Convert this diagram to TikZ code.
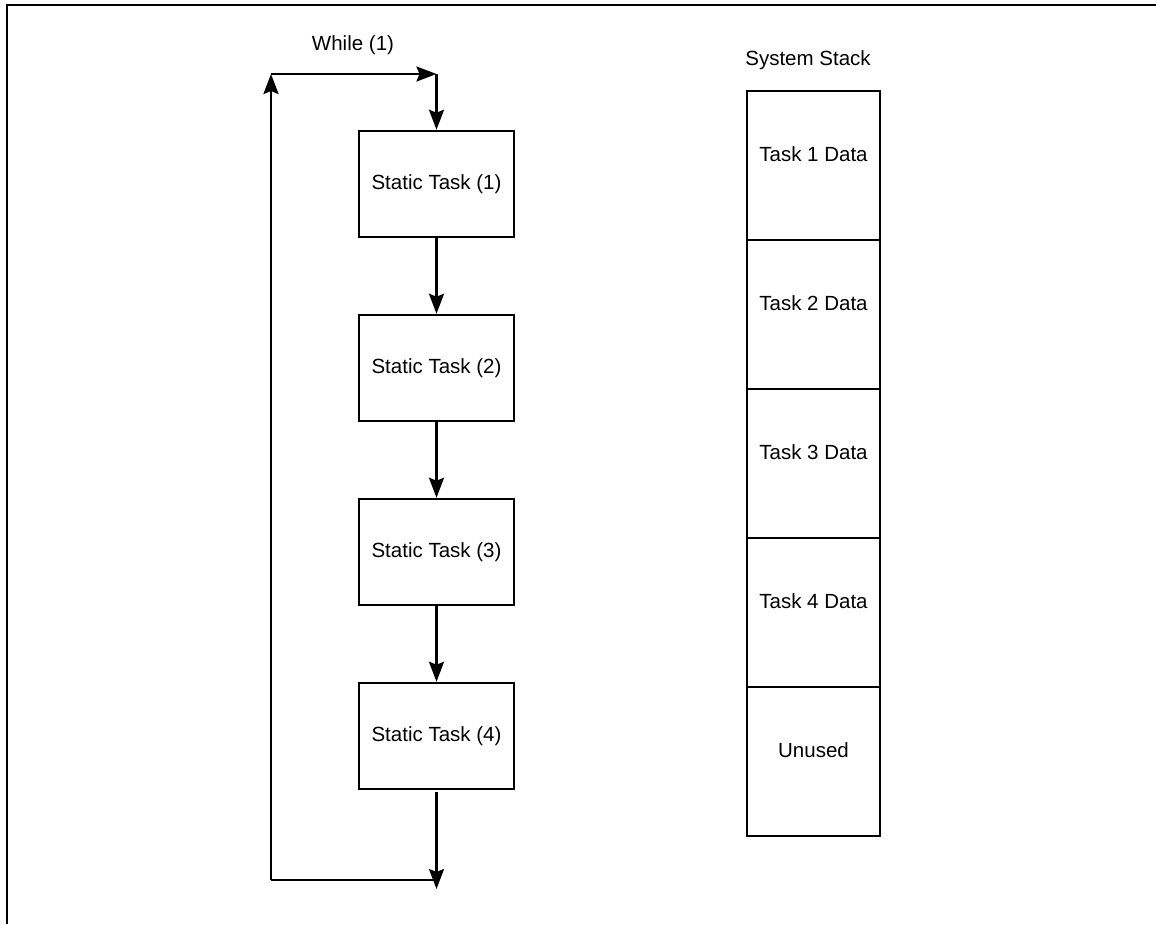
\documentclass[tikz,border=0pt]{standalone}
\usepackage{fontspec}
\setmainfont{Liberation Sans}
\usetikzlibrary{arrows.meta}
\begin{document}
\begin{tikzpicture}[x=1pt,y=-1pt,
  line width=2.5pt,
  every node/.style={font=\fontsize{20.5}{24}\selectfont},
  taskbox/.style={draw, line width=2.5pt, minimum width=155pt, minimum height=106pt, inner sep=0pt},
  cell/.style={draw, line width=2.5pt, minimum width=133pt, minimum height=149pt, inner sep=0pt},
  arr/.style={-{Stealth[length=20pt,width=15pt,inset=3pt]}}]
\useasboundingbox (0,0) rectangle (1156,924);
\draw (7,924) -- (7,5) -- (1156,5);
% tasks
\node[taskbox] (t1) at (436.5,184) {Static Task (1)};
\node[taskbox] (t2) at (436.5,368) {Static Task (2)};
\node[taskbox] (t3) at (436.5,552) {Static Task (3)};
\node[taskbox] (t4) at (436.5,736) {Static Task (4)};
\node (while) at (353,45) {While (1)};
\coordinate (tl) at (271,74);
\coordinate (tr) at (436.5,74);
\coordinate (bl) at (271,880);
\coordinate (bm) at (436.5,880);
\coordinate (bt) at (436.5,889);
\draw[arr] (tl) -- (tr);
\draw[arr] (tr) -- (t1.north);
\draw[arr] (t1.south) -- (t2.north);
\draw[arr] (t2.south) -- (t3.north);
\draw[arr] (t3.south) -- (t4.north);
\draw[arr] ([yshift=-2pt]t4.south) -- (bt);
\draw (bm) -- (bl);
\draw[arr] (bl) -- (tl);
% stack
\node (stk) at (808,60) {System Stack};
\node[cell, label={[yshift=11pt]center:Task 1 Data}] (s1) at (813.5,165.5) {};
\node[cell, label={[yshift=11pt]center:Task 2 Data}] (s2) at (813.5,314.5) {};
\node[cell, label={[yshift=11pt]center:Task 3 Data}] (s3) at (813.5,463.5) {};
\node[cell, label={[yshift=11pt]center:Task 4 Data}] (s4) at (813.5,612.5) {};
\node[cell, label={[yshift=11pt]center:Unused}] (s5) at (813.5,761.5) {};
\end{tikzpicture}
\end{document}
